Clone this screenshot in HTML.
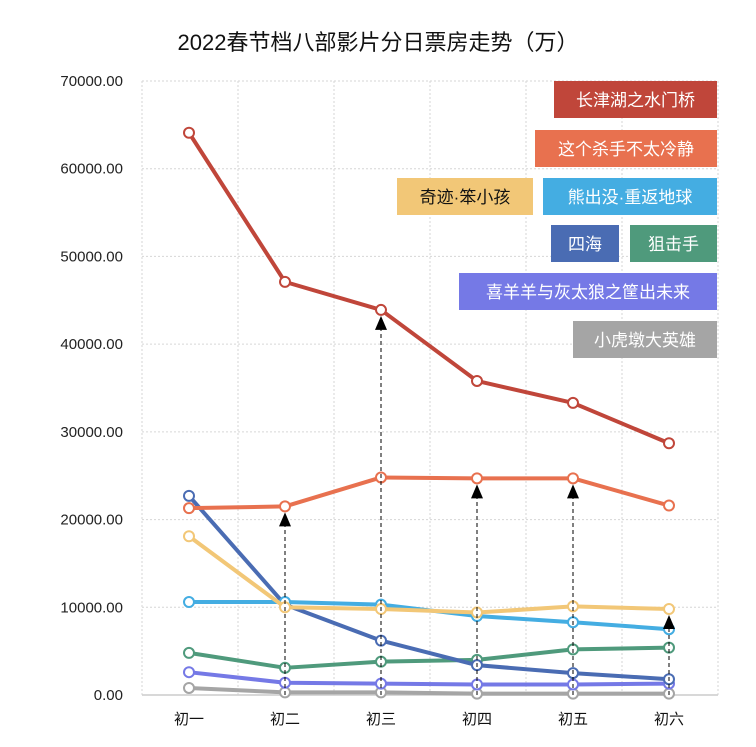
<!DOCTYPE html>
<html><head><meta charset="utf-8"><style>
body{margin:0;background:#fff;width:756px;height:742px;overflow:hidden;font-family:"Liberation Sans","Noto Sans CJK SC",sans-serif}
</style></head><body>
<svg id="c" width="756" height="742" xmlns="http://www.w3.org/2000/svg">
<text x="378" y="50" text-anchor="middle" font-size="22" fill="#111" font-family="Liberation Sans,Noto Sans CJK SC,sans-serif">2022春节档八部影片分日票房走势（万）</text>
</svg>
<script>
const categories=['初一','初二','初三','初四','初五','初六'];
const yTicks=[0,10000,20000,30000,40000,50000,60000,70000];
const names=['长津湖之水门桥','这个杀手不太冷静','奇迹·笨小孩','熊出没·重返地球','四海','狙击手','喜羊羊与灰太狼之筐出未来','小虎墩大英雄'];
const sChangjin=[64100,47100,43900,35800,33300,28700];
const sShashou=[21300,21500,24800,24700,24700,21600];
const sQiji=[18100,10000,9800,9400,10100,9800];
const sXiong=[10600,10600,10300,9000,8300,7500];
const sSihai=[22700,10300,6200,3400,2500,1800];
const sJuji=[4800,3100,3800,4000,5200,5400];
const sXiyang=[2600,1400,1300,1200,1200,1300];
const sXiaohu=[800,300,300,150,150,150];
const arrowSeries=[null,1,0,1,1,2];
const series=[sChangjin,sShashou,sQiji,sXiong,sSihai,sJuji,sXiyang,sXiaohu];
const colors=['#c0463a','#e8714f','#f2c777','#44ade2','#4a6cb3','#4f9a7c','#7579e6','#a5a5a5'];
const svg=document.getElementById('c');const NS='http://www.w3.org/2000/svg';
const X0=142,X1=718,Y0=695,Y1=81;
const xs=i=>189+i*96;
const ys=v=>Y0-(v/70000)*(Y0-Y1);
function mk(t,a,p){const e=document.createElementNS(NS,t);for(const k in a)e.setAttribute(k,a[k]);(p||svg).appendChild(e);return e;}
yTicks.forEach(v=>{if(v>0){const g=mk('line',{x1:X0,x2:X1,y1:ys(v),y2:ys(v),stroke:'#d6d6d6','stroke-dasharray':'2,2'});

}
const t=mk('text',{x:123,y:ys(v)+5,'text-anchor':'end','font-size':15,fill:'#222'});t.textContent=v.toFixed(2)+'';

});
for(let i=0;i<=6;i++){const x=X0+i*96;const g=mk('line',{x1:x,x2:x,y1:Y1,y2:Y0,stroke:'#d6d6d6','stroke-dasharray':'2,2'});

}
const ax=mk('line',{x1:X0,x2:X1,y1:Y0,y2:Y0,stroke:'#ccc','stroke-width':1.5});


categories.forEach((c,i)=>{const t=mk('text',{x:xs(i),y:724,'text-anchor':'middle','font-size':15,fill:'#111'});t.textContent=c;

});
for(let s=series.length-1;s>=0;s--){const d=series[s].map((v,i)=>(i?'L':'M')+xs(i)+','+ys(v)).join('');
const l=mk('path',{d:d,fill:'none',stroke:colors[s],'stroke-width':4,'stroke-linejoin':'round'});


series[s].forEach((v,i)=>{const c=mk('circle',{cx:xs(i),cy:ys(v),r:5,fill:'#fff',stroke:colors[s],'stroke-width':2});

});}
arrowSeries.forEach((s,i)=>{if(s===null)return;const ty=ys(series[s][i])+6;
const l=mk('line',{x1:xs(i),x2:xs(i),y1:Y0,y2:ty+10,stroke:'#000','stroke-dasharray':'4,3','stroke-width':1});


const p=mk('polygon',{points:`${xs(i)},${ty} ${xs(i)-6},${ty+14} ${xs(i)+6},${ty+14}`,fill:'#000'});

});
const boxes=[[554,81,163],[535,130,182],[397,178,136],[543,178,174],[551,225,68],[630,225,87],[459,273,258],[573,321,144]];
boxes.forEach((b,i)=>{const g=mk('g',{});


mk('rect',{x:b[0],y:b[1],width:b[2],height:37,fill:colors[i]},g);
const t=mk('text',{x:b[0]+b[2]/2,y:b[1]+25,'text-anchor':'middle','font-size':17,fill:i===2?'#111':'#fff'},g);t.textContent=names[i];});
</script>
</body></html>
